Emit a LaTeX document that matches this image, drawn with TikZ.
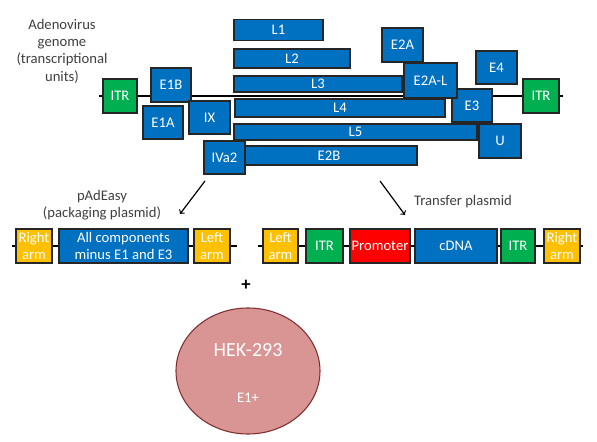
\documentclass[tikz,border=0pt]{standalone}
\usepackage{fontspec}
\setmainfont{Carlito}
\usetikzlibrary{shapes.geometric,backgrounds}
\definecolor{geneblue}{HTML}{0070C0}
\definecolor{itrgreen}{HTML}{00B050}
\definecolor{armgold}{HTML}{FFC000}
\definecolor{promred}{HTML}{FF0000}
\definecolor{cellpink}{HTML}{D99594}
\definecolor{cellrim}{HTML}{7F2F2F}
\definecolor{labelgrey}{HTML}{404040}
\tikzset{sz/.style 2 args={minimum width=#1*0.75pt, minimum height=#2*0.75pt}}

\begin{document}
\begin{tikzpicture}[x=0.75pt, y=-0.75pt, >=to,
  unit/.style={draw=black!85, line width=1pt, text=white, inner sep=0pt, align=center, font=\fontsize{11}{13}\selectfont},
  gene/.style={unit, fill=geneblue},
  itr/.style={unit, fill=itrgreen},
  arm/.style={unit, fill=armgold},
  note/.style={text=labelgrey, align=center, font=\fontsize{11}{13}\selectfont}]
  \useasboundingbox (0,0) rectangle (597,442);

  % genome
  \node[note] (title) at (62,51) {Adenovirus\\genome\\(transcriptional\\units)};
  \coordinate (gL) at (99,96);
  \coordinate (gR) at (563,96);
  \node[itr, sz={34}{34}] (ITRa) at (120,96) {ITR};
  \node[gene, sz={40}{34}] (E1B) at (171,85) {E1B};
  \node[gene, sz={40}{33}] (E1A) at (163,122.5) {E1A};
  \node[gene, sz={41}{33}] (IX) at (209.5,117.5) {IX};
  \node[gene, sz={89}{21}] (L1) at (278.5,30) {L1};
  \node[gene, sz={116}{19}] (L2) at (292,58.5) {L2};
  \node[gene, sz={168}{16}] (L3) at (318,84) {L3};
  \node[gene, sz={210}{18}] (L4) at (340,108) {L4};
  \node[gene, sz={243}{16}] (L5) at (355.5,132) {L5};
  \node[gene, sz={176}{19}] (E2B) at (329,155.5) {E2B};
  \node[gene, sz={41}{33}] (IVa2) at (224.5,157.5) {IVa2};
  \node[gene, sz={41}{34}] (E2A) at (402.5,45) {E2A};
  \node[gene, sz={40}{33}] (E3) at (472,105.5) {E3};
  \node[gene, sz={53}{35}] (E2AL) at (430.5,80.5) {E2A-L};
  \node[gene, sz={41}{33}] (E4) at (496.5,67.5) {E4};
  \node[gene, sz={42}{34}] (U) at (500,141) {U};
  \node[itr, sz={36}{34}] (ITRb) at (541,96) {ITR};
  \begin{scope}[on background layer]
    \draw[line width=1pt] (gL) -- (gR);
  \end{scope}

  % arrows and labels
  \coordinate (aL1) at (205,181);
  \coordinate (aL2) at (180,214);
  \coordinate (aR1) at (380,181);
  \coordinate (aR2) at (405,215);
  \draw[->, line width=0.9pt] (aL1) -- (aL2);
  \draw[->, line width=0.9pt] (aR1) -- (aR2);
  \node[note] (pad) at (102,205.5) {pAdEasy\\(packaging plasmid)};
  \node[note] (tp) at (463,202) {Transfer plasmid};

  % packaging plasmid
  \coordinate (pL) at (12,246);
  \coordinate (pR) at (237,246);
  \node[arm, sz={36}{34}] (RA1) at (34,246) {Right\\arm};
  \node[gene, sz={129}{34}] (All) at (123.5,246) {All components\\minus E1 and E3};
  \node[arm, sz={36}{34}] (LA1) at (212,246) {Left\\arm};
  \draw[line width=1pt] (pL) -- (RA1) -- (All) -- (LA1) -- (pR);

  % transfer plasmid
  \coordinate (tL) at (258,246);
  \coordinate (tR) at (583,246);
  \node[arm, sz={35}{34}] (LA2) at (280.5,246) {Left\\arm};
  \node[itr, sz={37}{34}] (ITR1) at (324.5,246) {ITR};
  \node[unit, fill=promred, sz={60}{34}] (Prom) at (380,246) {Promoter};
  \node[gene, sz={82}{34}] (cDNA) at (456,246) {cDNA};
  \node[itr, sz={34}{34}] (ITR2) at (518,246) {ITR};
  \node[arm, sz={36}{34}] (RA2) at (562,246) {Right\\arm};
  \draw[line width=1pt] (tL) -- (LA2) -- (ITR1) -- (Prom) -- (cDNA) -- (ITR2) -- (RA2) -- (tR);

  % cells
  \node[font=\fontsize{14}{14}\bfseries\selectfont] (plus) at (246,285) {+};
  \node[ellipse, draw=cellrim, fill=cellpink, line width=0.8pt, sz={144}{126}] (HEK) at (248,371) {};
  \node[text=white, font=\fontsize{15}{15}\selectfont] (hekname) at (248,350) {HEK-293};
  \node[text=white, font=\fontsize{11}{11}\selectfont] (e1) at (248,398) {E1+};
\end{tikzpicture}
\end{document}
